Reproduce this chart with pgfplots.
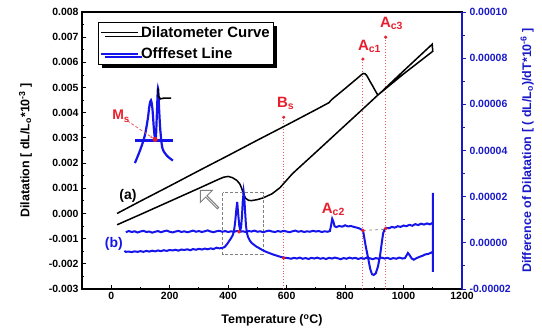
\documentclass[border=0pt]{standalone}
\usepackage{pgfplots}
\pgfplotsset{compat=1.18}
\usepackage{fontspec}
\setmainfont{Liberation Sans}
\usetikzlibrary{shadows,shapes.arrows,arrows.meta}
\definecolor{cblue}{RGB}{20,20,235}
\definecolor{cred}{RGB}{232,30,45}
\definecolor{lred}{RGB}{240,90,100}
\definecolor{axblue}{RGB}{25,25,200}
\begin{document}
\begin{tikzpicture}
\useasboundingbox (-82bp,-46bp) rectangle (460bp,289bp);
\begin{axis}[
 scale only axis, width=380bp, height=277bp, at={(0,0)}, anchor=south west,
 xmin=-100, xmax=1200, ymin=-3, ymax=8,
 xtick={0,200,400,600,800,1000,1200}, minor x tick num=1,
 xticklabels={0,200,400,600,800,1000,1200},
 ytick={-3,-2,-1,0,1,2,3,4,5,6,7,8},
 yticklabels={-0.003,-0.002,-0.001,0.000,0.001,0.002,0.003,0.004,0.005,0.006,0.007,0.008},
 minor y tick num=1,
 xtick pos=bottom, ytick pos=left,
 tick align=inside, major tick length=4bp, minor tick length=2.5bp,
 tick style={line width=0.9bp, black},
 axis line style={line width=1.3bp},
 /pgf/number format/assume math mode=true,
 ticklabel style={font=\fontsize{10.5}{12}\selectfont\bfseries},
 xlabel={Temperature (\textsuperscript{o}C)},
 ylabel={Dilatation [ dL/L\textsubscript{o}*10\textsuperscript{-3} ]},
 label style={font=\fontsize{12.5}{14}\selectfont\bfseries},
 xlabel style={yshift=-8bp},
 ylabel style={yshift=10bp},
 clip=false,
]
% red dotted markers
\addplot[draw=lred, dotted, line width=0.9bp] coordinates {(590,3.82)(590,-3)};
\addplot[draw=lred, dotted, line width=0.9bp] coordinates {(861,6.13)(861,-3)};
\addplot[draw=lred, dotted, line width=0.9bp] coordinates {(939,7.00)(939,-3)};
\addplot[only marks, mark=*, mark size=1.4bp, cred] coordinates {(590,3.82)(861,6.13)(939,7.00)};
% dilatometer curve: heating then cooling
\addplot[black, line width=1.5bp] coordinates {
(20,0.00)(100,0.49)(200,1.09)(300,1.70)(400,2.30)(500,2.91)(600,3.51)(700,4.12)
(745,4.40)(750,4.47)(755,4.53)(800,4.96)(840,5.35)(855,5.50)(862,5.56)(868,5.55)
(874,5.48)(885,5.25)(895,5.05)(905,4.84)(912,4.70)(920,4.78)(1000,5.66)(1098,6.72)
(1100,6.44)(1000,5.54)(912,4.70)(860,4.14)(800,3.50)(700,2.43)(650,1.90)(620,1.58)
(600,1.32)(577,1.02)(550,0.78)(520,0.62)(500,0.55)(480,0.51)(470,0.52)(460,0.60)
(452,0.78)(447,0.98)(440,1.17)(430,1.31)(415,1.42)(400,1.47)(385,1.44)(370,1.37)
(300,1.00)(200,0.48)(100,-0.04)(20,-0.45)};
% inset (magnified Ms region)
\addplot[cblue, line width=2.2bp] coordinates {(81,2.90)(211,2.90)};
\addplot[cblue, line width=2.2bp, smooth] coordinates {
(81,2.00)(100,2.55)(115,3.10)(125,3.75)(131,4.30)(136,4.49)(141,4.15)(146,3.35)(150,2.95)
(153,3.05)(156,3.90)(160,4.97)(164,4.10)(168,3.30)(175,2.60)(190,2.30)(211,2.10)};
\addplot[black, line width=1.6bp] coordinates {(160,4.97)(161,4.66)(168,4.55)(180,4.58)(205,4.58)};
\addplot[only marks, mark=*, mark size=2.3bp, cred] coordinates {(150,2.94)};
\draw[lred, densely dashed, line width=0.8bp, -{Stealth[length=3bp]}] (axis cs:55,3.68) -- (axis cs:143,2.99);
\node[cred, anchor=south west, inner sep=0, font=\fontsize{14}{16}\selectfont\bfseries] at (axis cs:3,3.62) {M\textsubscript{s}};
\node[cred, anchor=south west, inner sep=0, font=\fontsize{15}{17}\selectfont\bfseries] at (axis cs:567,4.10) {B\textsubscript{s}};
\node[cred, anchor=south west, inner sep=0, font=\fontsize{15}{17}\selectfont\bfseries] at (axis cs:844,6.37) {A\textsubscript{c1}};
\node[cred, anchor=south west, inner sep=0, font=\fontsize{15}{17}\selectfont\bfseries] at (axis cs:919,7.28) {A\textsubscript{c3}};
\node[cred, anchor=south west, inner sep=0, font=\fontsize{15}{17}\selectfont\bfseries] at (axis cs:720,-0.09) {A\textsubscript{c2}};
\node[black, font=\fontsize{14}{16}\selectfont\bfseries] at (axis cs:57,0.71) {(a)};
\node[cblue, font=\fontsize{14}{16}\selectfont\bfseries] at (axis cs:9,-1.20) {(b)};
\draw[gray, densely dashed, line width=0.8bp] (axis cs:382,0.83) rectangle (axis cs:519,-1.64);
\node[single arrow, draw=gray, fill=white, line width=1bp, rotate=135, inner sep=0pt,
 minimum height=25bp, minimum width=17bp, single arrow head extend=4bp] at (axis cs:336,0.55) {};
\end{axis}
\begin{axis}[
 scale only axis, width=380bp, height=277bp, at={(0,0)}, anchor=south west,
 xmin=-100, xmax=1200, ymin=-20, ymax=100,
 axis x line=none, axis y line*=right,
 ytick={-20,0,20,40,60,80,100},
 yticklabels={-0.00002,0.00000,0.00002,0.00004,0.00006,0.00008,0.00010},
 minor y tick num=1,
 tick align=outside, major tick length=4bp, minor tick length=2.5bp,
 y axis line style={line width=1.6bp, axblue},
 ytick style={line width=0.9bp, axblue},
 /pgf/number format/assume math mode=true,
 yticklabel style={font=\fontsize{10.5}{12}\selectfont\bfseries, text=axblue},
 ylabel={Difference of Dilatation [ ( dL/L\textsubscript{o})/dT*10\textsuperscript{-6} ]},
 ylabel style={font=\fontsize{12.5}{14}\selectfont\bfseries, text=axblue, yshift=-3bp},
 clip=false,
 legend style={at={(rel axis cs:0.042,0.964)}, anchor=north west, draw=black, line width=1bp,
   fill=white, drop shadow={shadow xshift=3.5bp, shadow yshift=-3.5bp, fill=black, opacity=1},
   font=\fontsize{15}{17}\selectfont\bfseries, inner sep=2bp, row sep=5bp, cells={anchor=west}},
 legend image code/.code={\draw[#1, line width=1.6bp] (0bp,0bp) -- (37bp,0bp);},
]
\addlegendimage{black}
\addlegendentry{Dilatometer Curve}
\addplot[cblue, line width=2bp] coordinates {
(50,4.6)(60,5.1)(70,4.7)(80,5.0)(90,4.5)(100,4.9)(110,5.2)(120,4.7)(130,4.9)(140,4.4)(150,4.8)
(160,5.1)(170,4.6)(180,5.0)(190,5.3)(200,4.8)(210,4.5)(220,4.9)(230,5.2)(240,4.7)(250,5.0)
(260,4.6)(270,4.9)(280,5.3)(290,4.8)(300,5.1)(310,4.7)(320,5.0)(330,5.4)(340,4.9)(350,4.6)
(360,5.0)(370,5.2)(380,4.8)(390,5.1)(400,4.7)(410,5.0)(420,4.8)(430,5.1)(440,4.8)(450,5.0)
(460,4.7)(470,5.1)(480,4.9)(490,5.3)(500,4.8)(510,5.0)(520,4.6)(530,5.0)(540,5.3)(550,4.9)
(560,4.7)(570,5.1)(580,4.8)(590,5.2)(600,4.9)(610,4.6)(620,5.0)(630,5.3)(640,4.8)(650,5.1)
(660,4.7)(670,5.0)(680,4.8)(690,5.2)(700,4.9)(710,5.1)(720,4.7)(730,5.0)(740,4.8)(748,5.1)
(752,7.5)(756,10.4)(760,9.2)(764,7.2)(770,6.8)(780,7.3)(790,7.0)(800,7.6)(810,7.1)(820,7.3)
(830,6.9)(840,6.6)(850,6.2)(857,5.6)(862,5.0)(866,2.0)(870,-1.0)(878,-6.1)(886,-11.3)
(892,-13.6)(898,-13.9)(905,-13.2)(912,-10.5)(919,-6.1)(925,-0.5)(930,4.0)(935,5.9)(940,6.5)
(950,6.3)(960,6.9)(970,6.6)(980,7.2)(990,6.9)(1000,7.5)(1010,7.2)(1020,7.8)(1030,7.4)
(1040,8.1)(1050,7.7)(1060,8.3)(1070,7.9)(1080,8.4)(1090,8.0)(1100,8.7)(1100,21.6)(1100,-12.6)
(1100,-4.0)(1095,-4.2)(1085,-4.8)(1075,-5.0)(1065,-5.6)(1056,-6.0)(1045,-6.6)(1035,-7.3)
(1028,-6.8)(1020,-5.2)(1015,-4.4)(1010,-5.5)(1005,-6.6)(997,-6.8)(985,-6.4)(975,-6.9)
(965,-6.6)(955,-7.0)(945,-6.5)(935,-6.8)(925,-6.4)(915,-6.9)(905,-6.6)(895,-7.1)(885,-6.7)
(875,-6.4)(865,-6.9)(855,-6.6)(845,-7.0)(835,-6.5)(825,-6.8)(815,-6.4)(805,-6.9)(795,-6.6)
(785,-7.1)(775,-6.7)(765,-6.4)(755,-6.8)(745,-6.5)(735,-7.0)(725,-6.6)(715,-6.9)(705,-6.4)
(695,-6.8)(685,-6.5)(675,-7.0)(665,-6.6)(655,-6.9)(645,-6.4)(635,-6.8)(625,-6.5)(615,-6.9)
(605,-6.6)(595,-6.5)(580,-6.1)(567,-5.6)(555,-5.1)(542,-4.5)(530,-3.9)(520,-3.3)(510,-2.6)
(502,-2.0)(495,-1.5)(488,-0.8)(480,0.0)(474,1.0)(468,2.5)(464,4.5)(461,7.5)(458,13.5)
(455,20.0)(453,22.1)(450,18.0)(447,11.0)(444,6.5)(441,5.6)(438,7.5)(434,13.0)(431,17.7)
(428,14.5)(424,9.0)(420,5.2)(416,3.4)(410,2.0)(404,0.9)(396,-0.6)(388,-1.8)(380,-2.2)
(370,-2.4)(360,-2.1)(350,-2.7)(340,-2.4)(330,-2.8)(320,-2.5)(310,-2.9)(300,-2.6)(290,-3.0)
(280,-2.7)(270,-3.2)(260,-2.8)(250,-3.1)(240,-2.9)(230,-3.4)(220,-3.0)(210,-3.3)(200,-3.1)
(190,-3.5)(180,-3.2)(170,-3.6)(160,-3.3)(150,-3.7)(140,-3.4)(130,-3.8)(120,-3.5)(110,-3.9)
(100,-3.6)(90,-3.9)(80,-3.7)(70,-4.0)(60,-3.8)(50,-3.9)(45,-3.5)};
\addlegendentry{Offfeset Line}
\addplot[gray, dashed, line width=0.7bp, forget plot] coordinates {(861,5.4)(939,5.8)};
\addplot[only marks, mark=*, mark size=1.6bp, cred, forget plot] coordinates {(437,4.8)(590,-6.6)(861,5.4)(939,6.2)};
\end{axis}
\end{tikzpicture}
\end{document}
